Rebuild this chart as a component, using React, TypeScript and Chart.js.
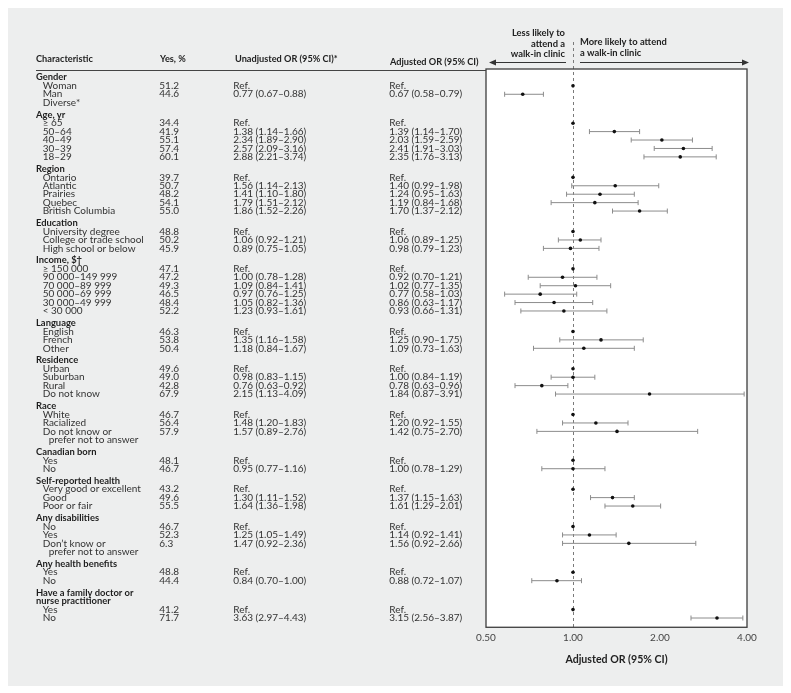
import React, { useEffect, useRef } from "react";
import { Chart, registerables } from "chart.js";

Chart.register(...registerables);

// ---------------- data ----------------
const groupNames: string[] = [
  "Gender",
  "Age, yr",
  "Region",
  "Education",
  "Income, $†",
  "Language",
  "Residence",
  "Race",
  "Canadian born",
  "Self-reported health",
  "Any disabilities",
  "Any health benefits",
  "Have a family doctor or\nnurse practitioner",
];
const groupSizes: number[] = [3, 5, 5, 3, 6, 3, 4, 3, 2, 3, 3, 2, 2];

const itemLabels: string[] = [
  "Woman", "Man", "Diverse*",
  "≥ 65", "50–64", "40–49", "30–39", "18–29",
  "Ontario", "Atlantic", "Prairies", "Quebec", "British Columbia",
  "University degree", "College or trade school", "High school or below",
  "≥ 150 000", "90 000–149 999", "70 000–89 999", "50 000–69 999", "30 000–49 999", "< 30 000",
  "English", "French", "Other",
  "Urban", "Suburban", "Rural", "Do not know",
  "White", "Racialized", "Do not know or\nprefer not to answer",
  "Yes", "No",
  "Very good or excellent", "Good", "Poor or fair",
  "No", "Yes", "Don’t know or\nprefer not to answer",
  "Yes", "No",
  "Yes", "No",
];

const yesPercent: (number | null)[] = [
  51.2, 44.6, null,
  34.4, 41.9, 55.1, 57.4, 60.1,
  39.7, 50.7, 48.2, 54.1, 55.0,
  48.8, 50.2, 45.9,
  47.1, 47.2, 49.3, 46.5, 48.4, 52.2,
  46.3, 53.8, 50.4,
  49.6, 49.0, 42.8, 67.9,
  46.7, 56.4, 57.9,
  48.1, 46.7,
  43.2, 49.6, 55.5,
  46.7, 52.3, 6.3,
  48.8, 44.4,
  41.2, 71.7,
];

// Unadjusted OR (1 with null CI = reference category)
const unadjOR: (number | null)[] = [
  1, 0.77, null,
  1, 1.38, 2.34, 2.57, 2.88,
  1, 1.56, 1.41, 1.79, 1.86,
  1, 1.06, 0.89,
  1, 1.0, 1.09, 0.97, 1.05, 1.23,
  1, 1.35, 1.18,
  1, 0.98, 0.76, 2.15,
  1, 1.48, 1.57,
  1, 0.95,
  1, 1.3, 1.64,
  1, 1.25, 1.47,
  1, 0.84,
  1, 3.63,
];
const unadjLow: (number | null)[] = [
  null, 0.67, null,
  null, 1.14, 1.89, 2.09, 2.21,
  null, 1.14, 1.1, 1.51, 1.52,
  null, 0.92, 0.75,
  null, 0.78, 0.84, 0.76, 0.82, 0.93,
  null, 1.16, 0.84,
  null, 0.83, 0.63, 1.13,
  null, 1.2, 0.89,
  null, 0.77,
  null, 1.11, 1.36,
  null, 1.05, 0.92,
  null, 0.7,
  null, 2.97,
];
const unadjHigh: (number | null)[] = [
  null, 0.88, null,
  null, 1.66, 2.9, 3.16, 3.74,
  null, 2.13, 1.8, 2.12, 2.26,
  null, 1.21, 1.05,
  null, 1.28, 1.41, 1.25, 1.36, 1.61,
  null, 1.58, 1.67,
  null, 1.15, 0.92, 4.09,
  null, 1.83, 2.76,
  null, 1.16,
  null, 1.52, 1.98,
  null, 1.49, 2.36,
  null, 1.0,
  null, 4.43,
];

// Adjusted OR
const adjOR: (number | null)[] = [
  1, 0.67, null,
  1, 1.39, 2.03, 2.41, 2.35,
  1, 1.4, 1.24, 1.19, 1.7,
  1, 1.06, 0.98,
  1, 0.92, 1.02, 0.77, 0.86, 0.93,
  1, 1.25, 1.09,
  1, 1.0, 0.78, 1.84,
  1, 1.2, 1.42,
  1, 1.0,
  1, 1.37, 1.61,
  1, 1.14, 1.56,
  1, 0.88,
  1, 3.15,
];
const adjLow: (number | null)[] = [
  null, 0.58, null,
  null, 1.14, 1.59, 1.91, 1.76,
  null, 0.99, 0.95, 0.84, 1.37,
  null, 0.89, 0.79,
  null, 0.7, 0.77, 0.58, 0.63, 0.66,
  null, 0.9, 0.73,
  null, 0.84, 0.63, 0.87,
  null, 0.92, 0.75,
  null, 0.78,
  null, 1.15, 1.29,
  null, 0.92, 0.92,
  null, 0.72,
  null, 2.56,
];
const adjHigh: (number | null)[] = [
  null, 0.79, null,
  null, 1.7, 2.59, 3.03, 3.13,
  null, 1.98, 1.63, 1.68, 2.12,
  null, 1.25, 1.23,
  null, 1.21, 1.35, 1.03, 1.17, 1.31,
  null, 1.75, 1.63,
  null, 1.19, 0.96, 3.91,
  null, 1.55, 2.7,
  null, 1.29,
  null, 1.63, 2.01,
  null, 1.41, 2.66,
  null, 1.07,
  null, 3.87,
];

const xTicks: number[] = [0.5, 1, 2, 4];

const headerLabels: string[] = [
  "Characteristic",
  "Yes, %",
  "Unadjusted OR (95% CI)*",
  "Adjusted OR (95% CI)",
];
const leftLabel: string[] = ["Less likely to", "attend a", "walk-in clinic"];
const rightLabel: string[] = ["More likely to attend", "a walk-in clinic"];
const axisTitle = "Adjusted OR (95% CI)";

// ---------------- row layout (one unit per text line) ----------------
const GROUP_GAP = 0.43;
type Line = { pos: number; text: string; kind: "group" | "item" | "cont"; item: number };
const lines: Line[] = [];
const itemPos: number[] = [];
(() => {
  let pos = 1;
  let idx = 0;
  groupNames.forEach((g, gi) => {
    g.split("\n").forEach((t) => {
      lines.push({ pos, text: t, kind: "group", item: -1 });
      pos += 1;
    });
    for (let k = 0; k < groupSizes[gi]; k++) {
      const parts = itemLabels[idx].split("\n");
      itemPos[idx] = pos;
      parts.forEach((t, pi) => {
        lines.push({ pos, text: t, kind: pi === 0 ? "item" : "cont", item: pi === 0 ? idx : -1 });
        pos += 1;
      });
      idx++;
    }
    pos += GROUP_GAP;
  });
})();
const yMax = lines[lines.length - 1].pos + 1.1;

const fmtCI = (o: number | null, l: number | null, h: number | null) => {
  if (o === null) return "";
  if (l === null || h === null) return "Ref.";
  return `${o.toFixed(2)} (${l.toFixed(2)}–${h.toFixed(2)})`;
};

const FONT = "Lato, 'Noto Sans', sans-serif";
const BG = "#edeeee";

const tablePlugin = {
  id: "forestTable",
  beforeDraw(chart: any) {
    const { ctx, chartArea } = chart;
    ctx.save();
    ctx.fillStyle = BG;
    ctx.fillRect(0, 0, chart.width, chart.height);
    ctx.fillStyle = "#ffffff";
    ctx.fillRect(chartArea.left, chartArea.top, chartArea.right - chartArea.left, chartArea.bottom - chartArea.top);
    ctx.restore();
  },
  beforeDatasetsDraw(chart: any) {
    const { ctx, chartArea, scales } = chart;
    const xOne = scales.x.getPixelForValue(1);
    ctx.save();
    ctx.strokeStyle = "#7a7a7a";
    ctx.lineWidth = 1;
    ctx.setLineDash([3, 3]);
    ctx.beginPath();
    ctx.moveTo(Math.round(xOne) + 0.5, 36);
    ctx.lineTo(Math.round(xOne) + 0.5, chartArea.bottom);
    ctx.stroke();
    ctx.restore();
  },
  afterDatasetsDraw(chart: any) {
    const { ctx, chartArea, scales } = chart;
    const y = scales.y;
    const xOne = scales.x.getPixelForValue(1);
    ctx.save();
    // plot frame
    ctx.strokeStyle = "#3d3d3d";
    ctx.lineWidth = 1.3;
    ctx.strokeRect(chartArea.left, chartArea.top, chartArea.right - chartArea.left, chartArea.bottom - chartArea.top);

    // header underline
    ctx.strokeStyle = "#444";
    ctx.lineWidth = 1;
    ctx.beginPath();
    ctx.moveTo(30, 64.5);
    ctx.lineTo(chartArea.left, 64.5);
    ctx.stroke();

    // header
    ctx.fillStyle = "#222";
    ctx.textBaseline = "middle";
    ctx.textAlign = "left";
    ctx.font = `bold 9.2px ${FONT}`;
    ctx.fillText(headerLabels[0], 30, 53.5);
    ctx.fillText(headerLabels[1], 154, 53.5);
    ctx.fillText(headerLabels[2], 229, 53.5);
    ctx.fillText(headerLabels[3], 384, 56);

    // table lines
    lines.forEach((ln) => {
      const py = y.getPixelForValue(ln.pos);
      if (ln.kind === "group") {
        ctx.font = `bold 9.4px ${FONT}`;
        ctx.fillStyle = "#1e1e1e";
        ctx.fillText(ln.text, 30, py);
        return;
      }
      ctx.font = `10px ${FONT}`;
      ctx.fillStyle = "#333";
      ctx.fillText(ln.text, ln.kind === "item" ? 36.7 : 42.7, py);
      if (ln.kind === "item") {
        const i = ln.item;
        const yp = yesPercent[i];
        if (yp !== null) ctx.fillText(yp.toFixed(1), 153.3, py);
        ctx.fillText(fmtCI(unadjOR[i], unadjLow[i], unadjHigh[i]), 227.3, py);
        ctx.fillText(fmtCI(adjOR[i], adjLow[i], adjHigh[i]), 383.3, py);
      }
    });

    // direction labels
    ctx.font = `bold 9.4px ${FONT}`;
    ctx.fillStyle = "#222";
    ctx.textAlign = "right";
    leftLabel.forEach((t, k) => ctx.fillText(t, xOne - 8, 27 + k * 10.7));
    ctx.textAlign = "left";
    rightLabel.forEach((t, k) => ctx.fillText(t, xOne + 7, 36.3 + k * 10.7));

    // arrows
    const ay = 56.5;
    ctx.strokeStyle = "#333";
    ctx.fillStyle = "#333";
    ctx.lineWidth = 1;
    ctx.beginPath();
    ctx.moveTo(xOne - 7, ay);
    ctx.lineTo(chartArea.left + 4, ay);
    ctx.moveTo(xOne + 7, ay);
    ctx.lineTo(chartArea.right + 1, ay);
    ctx.stroke();
    ctx.beginPath();
    ctx.moveTo(chartArea.left + 3, ay);
    ctx.lineTo(chartArea.left + 10, ay - 3);
    ctx.lineTo(chartArea.left + 10, ay + 3);
    ctx.closePath();
    ctx.fill();
    ctx.beginPath();
    ctx.moveTo(chartArea.right + 2, ay);
    ctx.lineTo(chartArea.right - 5, ay - 3);
    ctx.lineTo(chartArea.right - 5, ay + 3);
    ctx.closePath();
    ctx.fill();
    ctx.restore();
  },
};

export default function App() {
  const ref = useRef<HTMLCanvasElement | null>(null);
  useEffect(() => {
    if (!ref.current) return;
    const ciSets: any[] = [];
    itemLabels.forEach((_, i) => {
      const l = adjLow[i];
      const h = adjHigh[i];
      if (l === null || h === null) return;
      ciSets.push({
        type: "line",
        data: [
          { x: l, y: itemPos[i] },
          { x: h, y: itemPos[i] },
        ],
        borderColor: "#8c8c8c",
        borderWidth: 1,
        pointStyle: "line",
        pointRadius: 2.5,
        pointRotation: 90,
        pointBorderColor: "#8c8c8c",
        pointBorderWidth: 1,
        pointHoverRadius: 0,
        order: 2,
      });
    });
    const dots = {
      type: "scatter",
      data: itemLabels
        .map((_, i) => (adjOR[i] === null ? null : { x: adjOR[i] as number, y: itemPos[i] }))
        .filter((d) => d !== null),
      pointStyle: "circle",
      pointRadius: 1.8,
      pointBackgroundColor: "#111",
      pointBorderWidth: 0,
      order: 0,
    };
    const chart = new Chart(ref.current, {
      type: "scatter",
      data: { datasets: [dots, ...ciSets] as any },
      options: {
        animation: false,
        responsive: false,
        maintainAspectRatio: false,
        events: [],
        layout: { padding: { left: 480, right: 36, top: 63, bottom: 20 } },
        plugins: { legend: { display: false }, tooltip: { enabled: false } },
        scales: {
          x: {
            type: "logarithmic",
            min: 0.5,
            max: 4,
            afterBuildTicks: (axis: any) => {
              axis.ticks = xTicks.map((v) => ({ value: v }));
            },
            grid: { display: false, drawTicks: false },
            border: { display: false },
            ticks: {
              padding: 5,
              color: "#444",
              font: { family: FONT, size: 10 },
              callback: (v: any) => Number(v).toFixed(2),
              maxRotation: 0,
              autoSkip: false,
            },
            title: {
              display: true,
              text: axisTitle,
              color: "#222",
              font: { family: FONT, size: 10.6, weight: "bold" },
              padding: { top: 4, bottom: 0 },
            },
          },
          y: {
            type: "linear",
            reverse: true,
            min: 0,
            max: yMax,
            display: false,
          },
        },
      },
      plugins: [tablePlugin],
    } as any);
    return () => chart.destroy();
  }, []);
  return (
    <div style={{ marginLeft: -2, marginTop: -2, width: 777, height: 680 }}>
      <canvas ref={ref} width={777} height={680} style={{ display: "block" }} />
    </div>
  );
}
